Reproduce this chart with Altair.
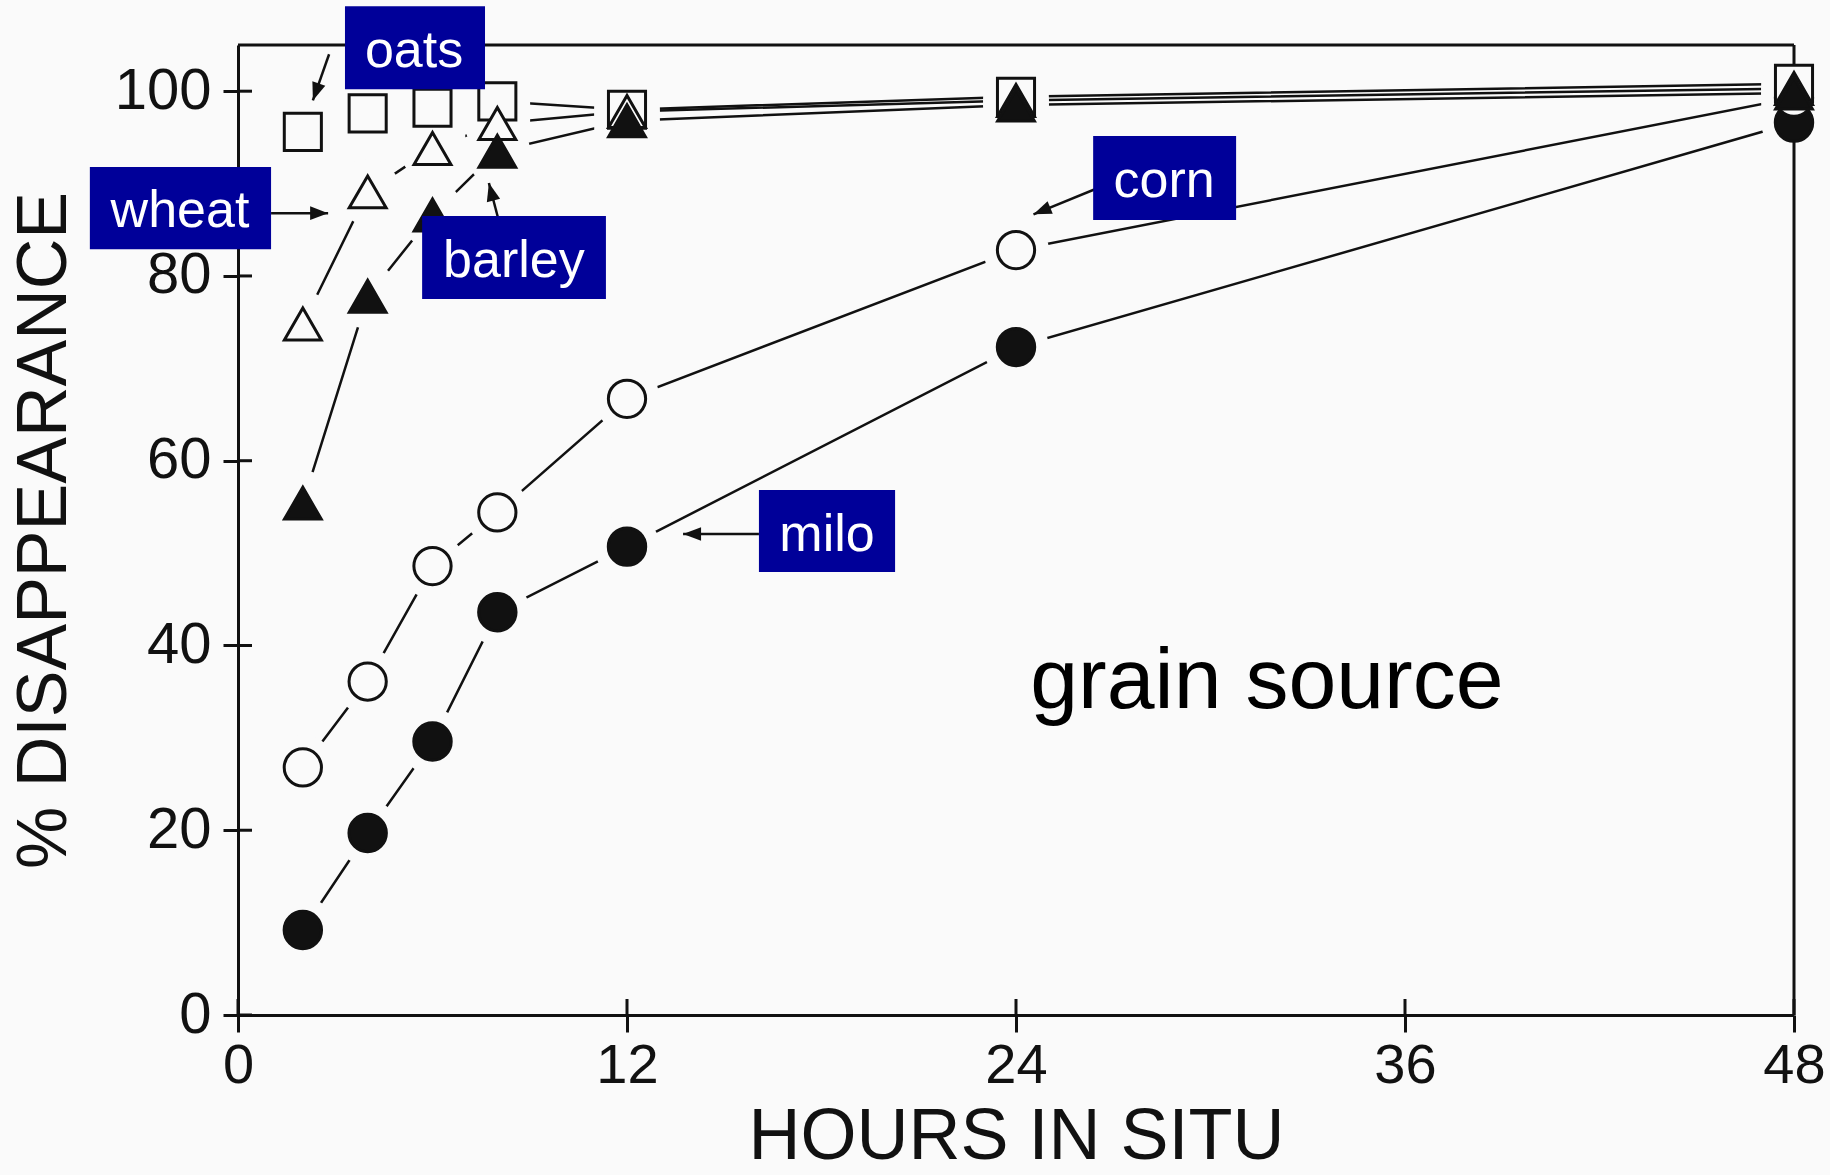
import altair as alt
import pandas as pd
import numpy as np

# ---- data ----
hours = [2, 4, 6, 8, 12, 24, 48]
oats = [95.6, 97.6, 98.2, 98.9, 98.0, 99.4, 100.8]
wheat = [74.8, 89.1, 93.8, 96.5, 97.8, 99.0, 100.3]
barley = [55.4, 77.8, 86.6, 93.5, 96.8, 98.5, 99.8]
corn = [26.8, 36.1, 48.6, 54.4, 66.7, 82.8, 99.3]
milo = [9.2, 19.7, 29.6, 43.6, 50.7, 72.3, 96.6]

x_ticks = [0, 12, 24, 36, 48]
y_ticks = [0, 20, 40, 60, 80, 100]

# annotation labels (data units)
label_names = ["oats", "wheat", "barley", "corn", "milo"]
label_x = [5.43, -1.79, 8.51, 28.57, 18.17]
label_y = [102.6, 85.3, 79.9, 88.55, 50.2]
box_x1 = [3.30, -4.57, 5.68, 26.38, 16.07]
box_x2 = [7.62, 1.02, 11.35, 30.79, 20.27]
box_y1 = [109.2, 91.8, 86.5, 95.15, 56.83]
box_y2 = [100.2, 82.9, 77.5, 86.06, 47.95]
arrow_x1 = [2.81, 1.02, 8.24, 27.0, 16.07]
arrow_y1 = [104.0, 86.8, 83.35, 90.2, 52.07]
arrow_x2 = [2.31, 2.78, 7.74, 24.54, 13.73]
arrow_y2 = [99.0, 86.8, 90.06, 86.67, 52.07]

note_text = ["grain source"]
note_x = [31.74]
note_y = [33.2]

# ---- styling ----
W, H = 1556, 970
XD, YD = [0, 48], [0, 105]
BG = "#fafafa"
INK = "#111111"
BOX = "#000099"
FONT = "Liberation Sans"

series = {"milo": milo, "corn": corn, "oats": oats, "wheat": wheat, "barley": barley}
grains = list(series.keys())
rows = []
for g, vals in series.items():
    for h, v in zip(hours, vals):
        rows.append({"grain": g, "hours": h, "pct": v})
df = pd.DataFrame(rows)

xs = alt.Scale(domain=XD, nice=False, zero=False)
ys = alt.Scale(domain=YD, nice=False, zero=False)

x_axis = alt.Axis(values=x_ticks, tickSize=17, tickWidth=3, tickColor=INK,
                  domainColor=INK, domainWidth=3, labelFontSize=56, labelFont=FONT,
                  labelColor=INK, labelPadding=6, labelFlush=False, grid=False,
                  titleFontSize=72, titleFont=FONT, titleFontWeight="normal",
                  titleColor=INK, titleX=W / 2, titleY=143, titleBaseline="alphabetic",
                  titleAlign="center")
y_axis = alt.Axis(values=y_ticks, tickSize=15, tickWidth=3, tickColor=INK,
                  domainColor=INK, domainWidth=3, labelFontSize=58, labelFont=FONT,
                  labelColor=INK, labelPadding=12, labelFlush=False, grid=False,
                  titleFontSize=70, titleFont=FONT, titleFontWeight="normal",
                  titleColor=INK, titleX=-194, titleY=H / 2, titleAngle=270,
                  titleBaseline="middle", titleAlign="center")

X = alt.X("hours:Q", scale=xs, axis=x_axis, title="HOURS IN SITU")
Y = alt.Y("pct:Q", scale=ys, axis=y_axis, title="% DISAPPEARANCE")

base = alt.Chart(df)

lines = base.mark_line(color=INK, strokeWidth=2.5).encode(
    x=X, y=Y, detail="grain:N", order="hours:Q")

halos = base.mark_point(filled=True, opacity=1, strokeWidth=0).encode(
    x=X, y=Y,
    shape=alt.Shape("grain:N", scale=alt.Scale(domain=grains,
                    range=["circle", "circle", "square", "circle", "circle"]), legend=None),
    size=alt.Size("grain:N", scale=alt.Scale(domain=grains,
                  range=[4300, 4300, 3700, 3500, 3500]), legend=None),
    color=alt.value(BG))

# frame (top and right), drawn after halos but below markers
one = pd.DataFrame({"k": [0]})
frame_top = alt.Chart(one).mark_rule(color=INK, strokeWidth=3).encode(
    x=alt.value(0), x2=alt.value(W), y=alt.value(0))
frame_right = alt.Chart(one).mark_rule(color=INK, strokeWidth=3).encode(
    x=alt.value(W), y=alt.value(0), y2=alt.value(H))

# inner halves of the crossing ticks
ytk = pd.DataFrame({"pct": y_ticks})
xtk = pd.DataFrame({"hours": x_ticks})
yticks_in = alt.Chart(ytk).mark_rule(color=INK, strokeWidth=3).encode(
    y=Y, x=alt.value(0), x2=alt.value(14))
xticks_in = alt.Chart(xtk).mark_rule(color=INK, strokeWidth=3).encode(
    x=X, y=alt.value(H), y2=alt.value(H - 16))

markers = base.mark_point(filled=True, opacity=1, strokeWidth=3).encode(
    x=X, y=Y,
    shape=alt.Shape("grain:N", scale=alt.Scale(domain=grains,
                    range=["circle", "circle", "square", "triangle-up", "triangle-up"]), legend=None),
    size=alt.Size("grain:N", scale=alt.Scale(domain=grains,
                  range=[1400, 1350, 1700, 1750, 1750]), legend=None),
    fill=alt.Fill("grain:N", scale=alt.Scale(domain=grains,
                  range=[INK, BG, BG, BG, INK]), legend=None),
    stroke=alt.value(INK))

# arrows
px_hr = W / (XD[1] - XD[0])
px_pct = H / (YD[1] - YD[0])
ax1, ay1 = np.array(arrow_x1), np.array(arrow_y1)
ax2, ay2 = np.array(arrow_x2), np.array(arrow_y2)
dxs = (ax2 - ax1) * px_hr
dys = -(ay2 - ay1) * px_pct
angles = (np.degrees(np.arctan2(dxs, -dys)) + 360) % 360
arrows_df = pd.DataFrame({"hours": arrow_x1, "pct": arrow_y1,
                          "hours2": arrow_x2, "pct2": arrow_y2,
                          "tipx": arrow_x2, "tipy": arrow_y2, "angle": angles})
arrow_lines = alt.Chart(arrows_df).mark_rule(color=INK, strokeWidth=2.5).encode(
    x=X, y=Y, x2="hours2:Q", y2="pct2:Q")
arrow_heads = alt.Chart(arrows_df).mark_point(
    shape="M0,0L-0.38,1L0.38,1Z", filled=True, opacity=1, size=1296, color=INK,
    strokeWidth=0).encode(
    x=alt.X("tipx:Q", scale=xs, axis=x_axis, title="HOURS IN SITU"),
    y=alt.Y("tipy:Q", scale=ys, axis=y_axis, title="% DISAPPEARANCE"),
    angle=alt.Angle("angle:Q", scale=None))

boxes_df = pd.DataFrame({"hours": box_x1, "hours2": box_x2, "pct": box_y1, "pct2": box_y2})
boxes = alt.Chart(boxes_df).mark_rect(color=BOX, opacity=1).encode(
    x=X, x2="hours2:Q", y=Y, y2="pct2:Q")

labels_df = pd.DataFrame({"hours": label_x, "pct": label_y, "name": label_names})
labels = alt.Chart(labels_df).mark_text(
    font=FONT, fontSize=52, color="white", align="center", baseline="alphabetic").encode(
    x=X, y=Y, text="name:N")

note_df = pd.DataFrame({"hours": note_x, "pct": note_y, "name": note_text})
note = alt.Chart(note_df).mark_text(
    font=FONT, fontSize=86, color="#000000", align="center", baseline="alphabetic").encode(
    x=X, y=Y, text="name:N")

chart = alt.layer(
    lines, halos, frame_top, frame_right, yticks_in, xticks_in, markers,
    arrow_lines, arrow_heads, boxes, labels, note
).resolve_scale(
    shape="independent", size="independent"
).properties(
    width=W, height=H, autosize="none",
    padding={"left": 238, "top": 45, "right": 36, "bottom": 160},
    background=BG
).configure_view(stroke=None)

chart.save("out.html", embed_options={"renderer": "svg", "actions": False})
